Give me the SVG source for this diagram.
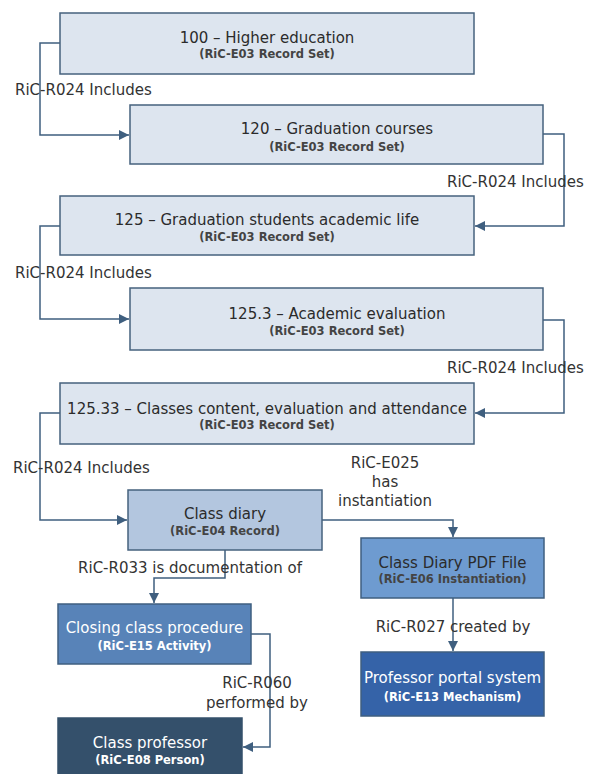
<svg xmlns="http://www.w3.org/2000/svg" width="591" height="774" viewBox="0 0 591 774">
  <style>
    .set { fill: #dde5ef; stroke: #46627e; stroke-width: 1.5; }
    .rec { fill: #b3c6df; stroke: #46627e; stroke-width: 1.5; }
    .inst { fill: #6e9bd0; stroke: #3f5f80; stroke-width: 1.5; }
    .act { fill: #5883b8; stroke: #3f5f80; stroke-width: 1.5; }
    .mech { fill: #3563a8; stroke: #3f5f80; stroke-width: 1.5; }
    .pers { fill: #34506b; stroke: #34506b; stroke-width: 1.5; }
    text { font-family: "DejaVu Sans", "Liberation Sans", sans-serif; text-anchor: middle; }
    .t { font-size: 15px; fill: #2b2b2b; }
    .s { font-size: 11.5px; font-weight: bold; fill: #444; }
    .tw { font-size: 15px; fill: #ffffff; }
    .sw { font-size: 11.5px; font-weight: bold; fill: #ffffff; }
    .lbl { font-size: 15px; fill: #333; }
    .lbl-l { text-anchor: start; }
    .conn { fill: none; stroke: #3f5f7f; stroke-width: 1.5; }
  </style>
  <defs>
    <marker id="arrow" viewBox="0 0 10 10" refX="10" refY="5" markerWidth="10" markerHeight="10" markerUnits="userSpaceOnUse" orient="auto">
      <path d="M0,0 L10,5 L0,10 z" fill="#3f5f7f"/>
    </marker>
  </defs>
  <rect width="591" height="774" fill="#ffffff"/>

  <g id="connectors">
    <path class="conn" d="M60,43 H40 V135 H129" marker-end="url(#arrow)"/>
    <path class="conn" d="M543,134 H564 V226 H475" marker-end="url(#arrow)"/>
    <path class="conn" d="M60,226 H40 V319 H129" marker-end="url(#arrow)"/>
    <path class="conn" d="M543,320 H564 V413 H475" marker-end="url(#arrow)"/>
    <path class="conn" d="M60,413 H40 V520 H127" marker-end="url(#arrow)"/>
    <path class="conn" d="M322,520 H453 V537" marker-end="url(#arrow)"/>
    <path class="conn" d="M225,550 V578 H154 V603" marker-end="url(#arrow)"/>
    <path class="conn" d="M453,598 V651" marker-end="url(#arrow)"/>
    <path class="conn" d="M251,634 H270 V747 H243" marker-end="url(#arrow)"/>

    <text class="lbl lbl-l" x="15" y="95">RiC-R024 Includes</text>
    <text class="lbl lbl-l" x="447" y="187">RiC-R024 Includes</text>
    <text class="lbl lbl-l" x="15" y="278">RiC-R024 Includes</text>
    <text class="lbl lbl-l" x="447" y="373">RiC-R024 Includes</text>
    <text class="lbl lbl-l" x="13" y="473">RiC-R024 Includes</text>
    <text class="lbl" x="385" y="468">RiC-E025</text>
    <text class="lbl" x="385" y="487">has</text>
    <text class="lbl" x="385" y="506">instantiation</text>
    <text class="lbl" x="190" y="573">RiC-R033 is documentation of</text>
    <text class="lbl" x="453" y="632">RiC-R027 created by</text>
    <text class="lbl" x="257" y="688">RiC-R060</text>
    <text class="lbl" x="257" y="708">performed by</text>
  </g>

  <g id="n100">
    <rect class="set" x="60" y="13" width="414" height="61"/>
    <text class="t" x="267" y="42.5">100 – Higher education</text>
    <text class="s" x="267" y="57.5">(RiC-E03 Record Set)</text>
  </g>
  <g id="n120">
    <rect class="set" x="130" y="105" width="413" height="59"/>
    <text class="t" x="337" y="133.5">120 – Graduation courses</text>
    <text class="s" x="337" y="151">(RiC-E03 Record Set)</text>
  </g>
  <g id="n125">
    <rect class="set" x="60" y="196" width="414" height="59"/>
    <text class="t" x="267" y="224.5">125 – Graduation students academic life</text>
    <text class="s" x="267" y="240.5">(RiC-E03 Record Set)</text>
  </g>
  <g id="n125-3">
    <rect class="set" x="130" y="288" width="413" height="62"/>
    <text class="t" x="337" y="318.5">125.3 – Academic evaluation</text>
    <text class="s" x="337" y="334.5">(RiC-E03 Record Set)</text>
  </g>
  <g id="n125-33">
    <rect class="set" x="60" y="383" width="414" height="61"/>
    <text class="t" x="267" y="413.5">125.33 – Classes content, evaluation and attendance</text>
    <text class="s" x="267" y="428.5">(RiC-E03 Record Set)</text>
  </g>
  <g id="class-diary">
    <rect class="rec" x="128" y="490" width="194" height="60"/>
    <text class="t" x="225" y="518.5">Class diary</text>
    <text class="s" x="225" y="534.5">(RiC-E04 Record)</text>
  </g>
  <g id="class-diary-pdf">
    <rect class="inst" x="361" y="538" width="183" height="60"/>
    <text class="t" x="452.5" y="567.5">Class Diary PDF File</text>
    <text class="s" x="452.5" y="582.5">(RiC-E06 Instantiation)</text>
  </g>
  <g id="closing-procedure">
    <rect class="act" x="58" y="604" width="193" height="60"/>
    <text class="tw" x="154.5" y="632.5">Closing class procedure</text>
    <text class="sw" x="154.5" y="649.5">(RiC-E15 Activity)</text>
  </g>
  <g id="portal-system">
    <rect class="mech" x="361" y="652" width="183" height="64"/>
    <text class="tw" x="452.5" y="682.5">Professor portal system</text>
    <text class="sw" x="452.5" y="700.5">(RiC-E13 Mechanism)</text>
  </g>
  <g id="class-professor">
    <rect class="pers" x="58" y="718" width="184" height="62"/>
    <text class="tw" x="150" y="747.5">Class professor</text>
    <text class="sw" x="150" y="763.5">(RiC-E08 Person)</text>
  </g>
</svg>
